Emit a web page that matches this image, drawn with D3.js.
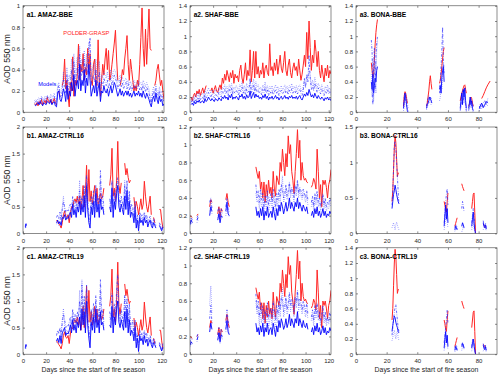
<!DOCTYPE html>
<html>
<head>
<meta charset="utf-8">
<script src="https://cdn.jsdelivr.net/npm/d3@7"></script>
<style>
  body { margin: 0; background: #fff; }
  svg { display: block; font-family: 'Liberation Sans', Arial, Helvetica, sans-serif; }
</style>
</head>
<body>
<div id="chart"></div>
<script>
const _ = null;

// tick labels
const xTicks122 = [0, 20, 40, 60, 80, 100, 120];
const xTicks92 = [0, 20, 40, 60, 80];
const yTicks1 = [0, 0.2, 0.4, 0.6, 0.8, 1];
const yTicks12 = [0, 0.2, 0.4, 0.6, 0.8, 1, 1.2];
const yTicks14 = [0, 0.2, 0.4, 0.6, 0.8, 1, 1.2, 1.4];
const yTicks15 = [0, 0.5, 1, 1.5];
const yTicks2 = [0, 0.5, 1, 1.5, 2];

const titles = ['a1. AMAZ-BBE', 'a2. SHAF-BBE', 'a3. BONA-BBE',
  'b1. AMAZ-CTRL16', 'b2. SHAF-CTRL16', 'b3. BONA-CTRL16',
  'c1. AMAZ-CTRL19', 'c2. SHAF-CTRL19', 'c3. BONA-CTRL19'];

// ---- AMAZ BBE (days 10-122)
const amazBbeDays = d3.range(10, 123);
const amazBbeObs = [
  .08,.07,.09,.06,.10,.08,.12,.07,.09,.11,
  .08,.14,.10,.09,.12,.08,.10,.13,.09,.07,
  _,.20,.15,_,.25,.30,.50,.22,.30,.15,
  .05,.28,.20,.52,.15,.30,.25,.35,.64,.30,
  .45,.38,.55,.30,.42,.35,.60,.40,.55,.30,
  .25,.45,.50,.30,.25,.68,.30,.15,.30,.45,
  .35,.50,.60,.40,.58,.30,.35,.45,.55,.65,
  .77,.50,.30,_,.25,.30,.40,.35,.50,.60,
  .72,.45,.30,.50,.40,.30,.20,.25,.20,.30,
  .25,.45,.70,.98,.60,.43,.78,.45,.70,.97,
  .60,.58,_,_,.25,.30,.40,.45,.35,.25,
  .30,.20,.12
];
const amazBbeModA = [
  .07,.06,.08,.09,.07,.10,.08,.06,.09,.08,
  .07,.10,.09,.08,.11,.07,.09,.10,.06,.05,
  .18,.20,.12,.10,.15,.22,.18,.10,.25,.12,
  .20,.15,.28,.20,.35,.15,.25,.30,.22,.45,
  .20,.30,.25,.40,.18,.32,.25,.45,.30,.15,
  .20,.25,.18,.30,.15,.22,.28,.10,.20,.18,
  .25,.20,.18,.22,.15,.20,.25,.18,.22,.28,
  .25,.20,.15,.18,.22,.16,.20,.15,.18,.20,
  .16,.20,.15,.18,.14,.17,.20,.15,.18,.16,
  .20,.15,.18,.14,.20,.16,.13,.18,.15,.12,
  .08,.05,.12,.15,.10,.18,.12,.08,.15,.10,
  .12,.06,.08
];
const amazBbeModB = [
  .09,.10,.11,.08,.12,.10,.14,.09,.11,.13,
  .10,.15,.12,.10,.14,.11,.13,.15,.09,.08,
  .22,.25,.15,.14,.20,.30,.25,.18,.35,.20,
  .28,.22,.40,.30,.48,.25,.35,.42,.30,.55,
  .30,.42,.35,.50,.28,.45,.35,.60,.70,.25,
  .30,.35,.28,.40,.22,.32,.38,.18,.28,.25,
  .32,.28,.25,.30,.22,.28,.32,.25,.30,.35,
  .32,.28,.22,.25,.30,.24,.28,.22,.25,.28,
  .22,.27,.21,.25,.20,.23,.26,.21,.24,.22,
  .26,.21,.24,.20,.26,.22,.19,.24,.21,.18,
  .12,.08,.16,.20,.14,.22,.16,.12,.20,.14,
  .16,.10,.12
];
const amazBbeModC = [
  .11,.12,.10,.13,.14,.12,.15,.13,.12,.15,
  .12,.16,.14,.13,.17,.14,.15,.18,.12,.10,
  .25,.28,.18,.20,.28,.38,.30,.25,.42,.28,
  .35,.30,.50,.38,.55,.32,.45,.52,.40,.62,
  .40,.50,.45,.58,.38,.55,.45,.66,.55,.35,
  .40,.45,.35,.50,.30,.42,.48,.25,.35,.32,
  .38,.35,.32,.38,.30,.35,.40,.32,.38,.40,
  .38,.34,.28,.30,.35,.30,.33,.28,.30,.32,
  .27,.30,.26,.29,.25,.27,.30,.26,.28,.26,
  .30,.26,.28,.25,.30,.27,.24,.28,.25,.22,
  .15,.10,.20,.24,.18,.26,.20,.15,.24,.18,
  .20,.13,.15
];

// ---- SHAF BBE (days 1-122)
const shafBbeDays = d3.range(1, 123);
const shafBbeObs = [
  .20,.15,.22,.25,.20,.28,.24,.30,.22,.27,
  .32,.25,.30,.35,_,_,_,.28,.32,.25,
  .30,.35,.28,.26,.32,.36,.30,.45,.38,.50,
  .42,.55,.48,.40,.52,.45,.55,.38,.50,.45,
  .48,.40,.55,.62,.45,.38,.50,.65,.42,.55,
  .48,.82,.40,.55,.80,.45,.80,.50,.60,.45,
  .55,.50,.65,.45,.58,.62,.52,.48,.90,.55,
  .60,.48,.65,.55,.70,.50,.62,.75,.58,.52,
  .65,.80,.55,.48,.62,.70,.52,.45,.58,.65,
  .55,.60,.48,.70,.55,.42,.50,.62,.75,.60,
  1.05,.70,1.20,.85,.55,.75,.65,.95,.80,.60,
  .80,.55,.45,.62,.50,.40,.58,.48,.62,.45,.55,.50
];
const shafBbeModA = [
  .10,.12,.09,.14,.11,.15,.13,.16,.12,.14,
  .15,.12,.18,.14,.16,.20,.17,.15,.18,.16,
  .14,.18,.16,.15,.19,.17,.15,.20,.18,.22,
  .18,.20,.16,.22,.19,.24,.17,.20,.18,.21,
  .19,.16,.22,.20,.24,.18,.21,.17,.23,.19,
  .20,.28,.18,.22,.26,.19,.24,.20,.22,.18,
  .20,.17,.22,.19,.24,.18,.21,.16,.20,.18,
  .21,.17,.19,.22,.18,.20,.16,.19,.21,.17,
  .19,.22,.18,.20,.17,.21,.19,.22,.18,.20,
  .18,.21,.17,.20,.22,.18,.16,.20,.24,.21,
  .26,.22,.30,.25,.20,.23,.19,.25,.21,.18,
  .22,.19,.17,.20,.18,.15,.19,.17,.20,.16,.18,.15
];
const shafBbeModB = [
  .13,.16,.12,.18,.15,.20,.17,.21,.16,.19,
  .20,.16,.24,.19,.22,.26,.23,.20,.24,.21,
  .19,.24,.22,.20,.26,.23,.20,.27,.25,.30,
  .24,.28,.22,.30,.26,.32,.23,.27,.25,.29,
  .26,.22,.30,.27,.33,.25,.29,.23,.31,.26,
  .28,.45,.25,.30,.36,.26,.33,.27,.30,.25,
  .27,.23,.30,.26,.33,.25,.29,.22,.28,.25,
  .29,.23,.26,.30,.25,.28,.22,.26,.29,.24,
  .26,.30,.25,.28,.23,.29,.26,.31,.25,.28,
  .25,.29,.24,.28,.30,.25,.22,.28,.45,.32,
  .50,.40,.75,.45,.30,.35,.28,.38,.32,.26,
  .32,.28,.24,.30,.26,.22,.28,.25,.30,.24,.27,.22
];
const shafBbeModC = [
  .16,.20,.15,.22,.19,.25,.21,.26,.20,.24,
  .25,.20,.30,.24,.28,.32,.28,.25,.30,.26,
  .24,.30,.27,.25,.32,.28,.25,.33,.30,.36,
  .30,.34,.27,.36,.32,.38,.28,.33,.30,.35,
  .32,.27,.36,.33,.40,.30,.35,.28,.38,.32,
  .34,.40,.30,.36,.44,.32,.40,.33,.36,.30,
  .33,.28,.36,.32,.40,.30,.35,.27,.34,.30,
  .35,.28,.32,.36,.30,.34,.27,.32,.35,.29,
  .32,.36,.30,.34,.28,.35,.32,.38,.30,.34,
  .30,.35,.29,.34,.36,.30,.27,.34,.40,.38,
  .42,.45,.55,.48,.36,.42,.34,.46,.38,.32,
  .38,.34,.29,.36,.31,.27,.34,.30,.36,.29,.32,.27
];

// ---- BONA BBE (null = gap)
const bonaBbeDays = [
  10,10.5,11,11.5,12,12.5,13,13.5,14, 20,
  31,31.5,32,32.5,33,33.5,34, 40,
  46,46.5,47,47.5,48,48.5,49,49.5, 52,
  54.5,55,55.5,56,56.5,57,57.5, 60,
  68,68.5,69,69.5,70,70.5,71,71.5,72, 73,
  73.5,74,74.5,75,75.5,76,76.5, 78,
  80.5,81,82,83,84,85,86,87.5
];
const bonaBbeObs = [
  .65,.55,.45,.50,.70,.90,1.05,1.15,1.22, _,
  .08,.22,.27,.24,.18,.12,_, _,
  .08,.12,.20,.28,.40,.48,.38,.30, _,
  .38,.42,.50,.60,.70,.80,.85, _,
  .15,.20,.25,.28,.32,.35,.36,.30,.25, _,
  .08,.10,.15,.20,.18,.12,.08, _,
  _,_,.18,.22,.27,.32,.36,.41
];
const bonaBbeModA = [
  .40,.30,.50,.25,.35,.45,.40,.55,.60, _,
  .05,.15,.25,.18,.10,.02,.00, _,
  .05,.10,.12,.15,.20,.18,.15,.12, _,
  .30,.35,.25,.45,.55,.60,.40, _,
  .05,.15,.25,.10,.30,.20,.32,.15,.05, _,
  .05,.12,.20,.10,.15,.05,.02, _,
  .05,.08,.12,.06,.10,.14,.12,_
];
const bonaBbeModB = [
  .95,.80,.10,.60,.85,.30,.75,.90,1.0, _,
  .10,.20,.22,.15,.08,.05,.02, _,
  .08,.15,.18,.22,.16,.20,.18,.14, _,
  .25,.40,.60,.80,1.12,.70,.50, _,
  .02,.10,.20,.28,.15,.30,.25,.10,.02, _,
  .02,.08,.15,.18,.08,.12,.05, _,
  .08,.04,.08,.12,.15,.10,.18,_
];
const bonaBbeModC = [
  .50,.20,.70,.15,.50,.65,.25,.80,.95, _,
  .02,.08,.18,.25,.20,.12,.05, _,
  .03,.06,.10,.12,.14,.12,.10,.08, _,
  .15,.20,.35,.30,.45,.65,.55, _,
  .10,.05,.15,.22,.25,.12,.20,.08,.00, _,
  .10,.05,.12,.06,.10,.03,.00, _,
  .02,.10,.05,.09,.07,.12,.08,_
];

// ---- AMAZ CTRL (days 2-4, then 28-121)
const amazCtrlDays = [2, 2.5, 3, 4].concat(d3.range(28, 122));
const amazCtrlObs = [
  _,_,_,_,
  _,.25,.22,.18,.15,.10,.20,.35,.42,.32,
  .30,.35,.20,.38,.50,.48,.60,.65,.58,.70,
  .55,.70,.45,.62,.90,.50,.75,1.28,.60,1.20,
  .60,.80,.55,.70,.90,.60,.85,.55,.62,.75,
  .65,.70,.85,_,_,_,_,.90,1.10,1.60,
  .70,.85,.60,1.00,1.73,.90,.75,.95,_,_,
  1.32,1.10,1.22,1.05,.95,1.00,_,_,.68,.45,
  .60,.50,.35,.50,.65,.45,.55,.98,.70,.50,
  .40,.55,.70,.35,_,.30,.20,_,_,_,
  .45,.45,.25,.10
];
const ctrl16AmazModA = [
  .12,.18,.15,_,
  _,.20,.25,.18,.22,.15,.30,.28,.35,.25,
  .30,.28,.35,.40,.30,.55,.35,.45,.30,.50,
  .40,.60,.35,.55,.40,.70,.30,.90,.45,.20,
  .10,.50,.35,.60,.30,.75,.40,.55,.30,.65,
  .45,.50,.35,_,_,_,_,.50,.40,.85,
  .30,.60,.45,.75,.90,.50,.40,.55,.45,.35,
  .70,.45,.80,.35,.60,.30,.40,.35,.20,.45,
  .10,.25,.05,.30,.20,.25,.15,.30,.20,.25,
  .12,.20,.25,.15,.10,.20,.15,.10,_,_,
  .15,.10,.05,.12
];
const ctrl16AmazModB = [
  .10,.14,.20,_,
  _,.30,.35,.28,.40,.25,.45,.60,.50,.40,
  .45,.42,.50,.55,.45,.70,.50,.60,.45,.65,
  .55,.80,.50,.70,.55,.90,.45,1.10,.60,.35,
  .25,.70,.50,.80,.45,.90,.55,.70,.45,1.18,
  .60,.70,.50,_,_,_,_,.65,.55,1.00,
  .45,.80,.60,.95,1.05,.65,.55,.70,.60,.50,
  .90,.60,1.00,.50,.80,.45,.55,.50,.30,.60,
  .20,.35,.10,.40,.30,.35,.25,.40,.30,.35,
  .20,.28,.32,.22,.15,.28,.22,.15,_,_,
  .20,.15,.08,.18
];
const ctrl16AmazModC = [
  .15,.11,.17,_,
  _,.18,.20,.15,.25,.35,.50,.70,.40,.30,
  .35,.30,.25,.45,.35,.60,.40,.50,.35,.55,
  .45,1.00,.45,.65,.50,.80,.40,1.00,.55,.25,
  .15,.60,.40,.65,.35,.85,.50,.60,.40,1.00,
  .55,.60,.40,_,_,_,_,.60,.45,.95,
  .40,.75,.55,.85,1.00,.60,.50,.65,.55,.45,
  1.00,.55,.90,.40,.70,.35,.45,.45,.25,.55,
  .15,.30,.08,.35,.25,.30,.20,.35,.25,.30,
  .15,.25,.28,.18,.12,.25,.18,.12,_,_,
  .18,.12,.06,.15
];
const ctrl19AmazModA = [
  .12,.18,.15,_,
  _,.25,.30,.22,.35,.20,.40,.45,.50,.35,
  .40,.38,.45,.55,.40,.65,.45,.55,.40,.60,
  .50,.70,.45,.85,.55,.80,.40,1.00,.55,.30,
  .12,.60,.45,.70,.40,.85,.50,.65,.40,.80,
  .55,.60,.45,_,_,_,_,.55,.50,.90,
  .40,.70,.55,.85,1.00,.60,.50,.65,.55,.45,
  .80,.50,.85,.40,.65,.35,.45,.40,.25,.50,
  .12,.30,.05,.35,.25,.30,.18,.35,.22,.28,
  .15,.22,.28,.18,.12,.22,.18,.12,_,_,
  .18,.12,.06,.14
];
const ctrl19AmazModB = [
  .10,.14,.20,_,
  _,.35,.45,.38,.50,.32,.60,.75,.65,.50,
  .55,.52,.60,.70,.55,.85,.60,.75,.55,.80,
  .70,1.00,.65,1.30,.70,1.10,.55,1.30,.70,.45,
  .30,.85,.60,.95,.55,1.10,.65,.85,.55,1.40,
  .75,.85,.60,_,_,_,_,.80,.65,1.15,
  .55,.95,.70,1.20,1.50,.75,.65,.85,.70,.60,
  1.10,.70,1.05,.60,.95,.55,.60,.60,.35,.65,
  .25,.40,.12,.45,.35,.40,.30,.45,.35,.40,
  .22,.32,.36,.25,.18,.30,.25,.18,_,_,
  .22,.16,.08,.20
];
const ctrl19AmazModC = [
  .15,.11,.17,_,
  _,.22,.28,.20,.32,.45,.65,.86,.50,.40,
  .45,.40,.35,.60,.45,.75,.50,.65,.45,.70,
  .60,1.20,.55,1.40,.60,.95,.50,1.25,.65,.35,
  .20,.75,.50,.80,.45,1.00,.60,.75,.50,1.20,
  .65,.75,.50,_,_,_,_,.70,.55,1.05,
  .50,.85,.65,1.05,1.25,.70,.60,.75,.65,.55,
  1.10,.65,.95,.50,.85,.45,.55,.65,.30,.60,
  .20,.35,.10,.40,.30,.35,.25,.40,.30,.35,
  .18,.28,.32,.22,.15,.28,.22,.15,_,_,
  .20,.14,.07,.17
];

// ---- SHAF CTRL (short segments, then days 57-102 and 105-122)
const shafCtrlDays = [0,1,2,3, 6,7,8, 17,18,19,20, 24,25,26,27,28,29, 31,32,33,34,35]
  .concat(d3.range(57, 104), d3.range(105, 123));
const shafCtrlObs = [
  .20,.19,.18,_, .20,.22,_, .30,.38,.35,_, .22,.30,.18,.28,.25,_, .38,.45,.35,.30,_,
  .75,.68,.62,.70,.50,.58,.40,.58,.35,.55,
  .42,.60,.45,.52,.40,.70,.50,.42,.65,.60,
  .55,.80,.70,.95,.80,.65,.90,.75,1.10,.90,
  1.00,.70,.60,.45,.70,.90,1.17,.85,1.05,.60,
  .80,.65,.60,.62,.58,.57,_,
  .52,.55,.62,.58,.50,.95,.70,.40,.55,.30,
  .60,.55,.60,.52,.40,.55,.60,.72
];
const ctrl16ShafModA = [
  .10,.15,.12,_, .15,.18,_, .20,.30,.25,_, .15,.22,.12,.20,.18,_, .25,.35,.22,.20,_,
  .30,.20,.25,.18,.28,.20,.30,.15,.25,.20,
  .30,.18,.22,.25,.18,.30,.22,.15,.28,.20,
  .32,.25,.35,.30,.22,.28,.35,.25,.30,.40,
  .28,.35,.30,.25,.35,.30,.40,.28,.35,.30,
  .25,.32,.28,.25,.30,.22,_,
  .20,.25,.18,.28,.22,.30,.20,.25,.18,.22,
  .28,.20,.25,.18,.22,.20,.25,.22
];
const ctrl16ShafModB = [
  .12,.18,.15,_, .18,.20,_, .35,.40,.28,_, .25,.30,.18,.28,.22,_, .30,.40,.28,.25,_,
  .55,.40,.48,.35,.50,.38,.45,.30,.42,.35,
  .48,.32,.40,.45,.35,.50,.40,.30,.45,.38,
  .50,.42,.55,.50,.40,.45,.55,.42,.48,.58,
  .45,.52,.48,.40,.55,.48,.60,.45,.52,.48,
  .42,.50,.45,.40,.48,.38,_,
  .35,.42,.30,.45,.38,.48,.35,.40,.30,.38,
  .45,.32,.40,.30,.35,.32,.40,.36
];
const ctrl16ShafModC = [
  .08,.12,.10,_, .12,.15,_, .25,.35,.22,_, .18,.25,.15,.22,.18,_, .20,.30,.25,.18,_,
  .45,.35,.38,.28,.40,.30,.38,.25,.35,.28,
  .40,.25,.32,.38,.28,.42,.32,.25,.38,.30,
  .45,.35,.50,.65,.35,.40,.50,.38,.42,.55,
  .40,.48,.42,.35,.50,.42,.58,.40,.48,.42,
  .38,.45,.40,.35,.42,.32,_,
  .30,.38,.25,.40,.32,.42,.30,.35,.25,.32,
  .40,.28,.35,.25,.30,.28,.35,.30
];
const ctrl19ShafModA = [
  .10,.14,.12,_, .16,.20,_, .25,.35,.28,_, .16,.24,.14,.22,.20,_, .28,.38,.25,.22,_,
  .35,.25,.30,.22,.32,.25,.35,.20,.30,.25,
  .35,.22,.28,.30,.22,.35,.28,.20,.32,.25,
  .38,.30,.40,.35,.28,.32,.40,.30,.35,.45,
  .32,.40,.35,.30,.40,.35,.48,.32,.40,.35,
  .30,.38,.32,.30,.35,.28,_,
  .25,.30,.22,.32,.26,.35,.25,.30,.22,.26,
  .32,.24,.30,.22,.26,.24,.30,.26
];
const ctrl19ShafModB = [
  .13,.18,.16,_, .20,.24,_, .40,.55,.35,_, .22,.30,.18,.28,.25,_, .35,.50,.38,.30,_,
  .68,.50,.60,.42,.58,.45,.55,.38,.50,.42,
  .58,.40,.48,.52,.42,.60,.48,.38,.55,.45,
  .60,.50,.65,.60,.48,.55,.65,.50,.58,.70,
  .55,.62,.58,.48,.65,.58,.72,.55,.62,.58,
  .50,.60,.55,.48,.58,.45,_,
  .42,.50,.38,.55,.45,.58,.42,.48,.36,.45,
  .55,.40,.48,.36,.42,.38,.48,.42
];
const ctrl19ShafModC = [
  .08,.12,.10,_, .14,.18,_, .55,.77,.45,_, .15,.20,.12,.25,.16,_, .25,.42,.30,.22,_,
  .60,.45,.50,.32,.48,.35,.45,.30,.40,.32,
  .48,.30,.38,.45,.32,.50,.38,.30,.45,.35,
  .55,.42,.60,.75,.42,.48,.60,.45,.50,.65,
  .48,.58,.52,.42,.60,.52,.70,.48,.58,.52,
  .45,.55,.48,.42,.50,.40,_,
  .38,.45,.32,.48,.40,.50,.38,.42,.32,.40,
  .48,.35,.42,.32,.38,.34,.42,.36
];

// ---- BONA CTRL (null = gap)
const bonaCtrlDays = [
  23.5,24,24.5,25,25.5,26,26.5,27,27.5,28, 30,
  57.5,58,58.5,59,59.5,60, 62,
  64.5,65,65.5,66, 67,
  69,69.5,70,70.5, 72,
  75.5,76,76.5,77,77.5,78, 80,
  83,83.5,84,84.5,85
];
const bonaCtrlObs = [
  .45,.60,.90,1.20,1.38,1.28,1.05,.80,.85,.85, _,
  .45,.40,.33,.30,.45,.57, _,
  .10,.14,.18,.22, _,
  .70,.66,.63,.60, _,
  .35,.45,.55,.57,.30,.00, _,
  .13,.12,.10,.08,_
];
const ctrl16BonaModA = [
  .35,.45,.55,.60,.68,.62,.55,.50,.45,.42, _,
  .10,.25,.40,.20,.35,.15, _,
  .05,.10,.08,.05, _,
  .10,.15,.12,.08, _,
  .10,.20,.30,.15,.05,.00, _,
  .15,.10,.08,.12,.06
];
const ctrl16BonaModB = [
  .40,.60,.90,1.25,1.30,1.20,1.00,.80,.60,.40, _,
  .15,.30,.45,.55,.63,.40, _,
  .08,.12,.10,.06, _,
  .35,.45,.40,.30, _,
  .15,.25,.35,.25,.10,.02, _,
  .18,.12,.10,.15,.08
];
const ctrl16BonaModC = [
  .08,.12,.15,.10,.05,.12,.16,.12,.08,.05, _,
  .05,.12,.20,.30,.15,.08, _,
  .03,.06,.12,.08, _,
  .02,.05,.12,.06, _,
  .05,.12,.20,.08,.02,.00, _,
  .05,.08,.12,.06,.04
];
const ctrl19BonaModA = [
  .30,.38,.45,.50,.48,.42,.38,.35,.30,.28, _,
  .08,.20,.30,.15,.25,.10, _,
  .05,.10,.08,.05, _,
  .10,.14,.12,.08, _,
  .08,.15,.20,.12,.05,.00, _,
  .12,.08,.06,.10,.05
];
const ctrl19BonaModB = [
  .25,.35,.45,.55,.62,.65,.55,.45,.35,.30, _,
  .15,.25,.35,.45,.58,.40, _,
  .08,.12,.10,.06, _,
  .12,.16,.10,.08, _,
  .10,.18,.20,.15,.06,.01, _,
  .14,.10,.08,.12,.06
];
const ctrl19BonaModC = [
  .18,.22,.28,.32,.25,.20,.28,.30,.22,.18, _,
  .05,.10,.18,.25,.12,.06, _,
  .03,.06,.12,.08, _,
  .05,.10,.14,.06, _,
  .04,.10,.16,.08,.02,.00, _,
  .04,.07,.10,.05,.03
];

const panels = [
  { xMax: 122, xTicks: xTicks122, yMax: 1, yTicks: yTicks1, days: amazBbeDays, obs: amazBbeObs, models: [amazBbeModA, amazBbeModB, amazBbeModC] },
  { xMax: 122, xTicks: xTicks122, yMax: 1.4, yTicks: yTicks14, days: shafBbeDays, obs: shafBbeObs, models: [shafBbeModA, shafBbeModB, shafBbeModC] },
  { xMax: 92, xTicks: xTicks92, yMax: 1.4, yTicks: yTicks14, days: bonaBbeDays, obs: bonaBbeObs, models: [bonaBbeModA, bonaBbeModB, bonaBbeModC] },
  { xMax: 122, xTicks: xTicks122, yMax: 2, yTicks: yTicks2, days: amazCtrlDays, obs: amazCtrlObs, models: [ctrl16AmazModA, ctrl16AmazModB, ctrl16AmazModC] },
  { xMax: 122, xTicks: xTicks122, yMax: 1.2, yTicks: yTicks12, days: shafCtrlDays, obs: shafCtrlObs, models: [ctrl16ShafModA, ctrl16ShafModB, ctrl16ShafModC] },
  { xMax: 92, xTicks: xTicks92, yMax: 1.5, yTicks: yTicks15, days: bonaCtrlDays, obs: bonaCtrlObs, models: [ctrl16BonaModA, ctrl16BonaModB, ctrl16BonaModC] },
  { xMax: 122, xTicks: xTicks122, yMax: 2, yTicks: yTicks2, days: amazCtrlDays, obs: amazCtrlObs, models: [ctrl19AmazModA, ctrl19AmazModB, ctrl19AmazModC] },
  { xMax: 122, xTicks: xTicks122, yMax: 1.2, yTicks: yTicks12, days: shafCtrlDays, obs: shafCtrlObs, models: [ctrl19ShafModA, ctrl19ShafModB, ctrl19ShafModC] },
  { xMax: 92, xTicks: xTicks92, yMax: 1.4, yTicks: yTicks14, days: bonaCtrlDays, obs: bonaCtrlObs, models: [ctrl19BonaModA, ctrl19BonaModB, ctrl19BonaModC] }
];

const width = 500;
const height = 377;
const plotW = 141;
const plotH = 106.4;
const colLeft = [23, 190, 356];
const rowTop = [5.8, 127, 247.8];
const axisColor = '#404040';
const textColor = '#262626';

// solid, dash-dot, dotted model runs
const modelStyles = [
  { dash: null, color: '#0000ff', width: 0.9 },
  { dash: '2.5,1.5,0.6,1.5', color: '#2a2aff', width: 0.7 },
  { dash: '0.6,1.4', color: '#3a3aff', width: 0.7 }
];

const svg = d3.select('#chart')
  .append('svg')
  .attr('width', width)
  .attr('height', height);

const fmt = d => String(+d.toFixed(2));

panels.forEach((p, i) => {
  const col = i % 3;
  const row = Math.floor(i / 3);

  const g = svg.append('g')
    .attr('transform', `translate(${colLeft[col]},${rowTop[row]})`);

  const x = d3.scaleLinear().domain([0, p.xMax]).range([0, plotW]);
  const y = d3.scaleLinear().domain([0, p.yMax]).range([plotH, 0]);

  svg.append('clipPath')
    .attr('id', `clip${i}`)
    .append('rect')
    .attr('width', plotW)
    .attr('height', plotH);

  const line = d3.line()
    .defined(d => d[1] != null)
    .x(d => x(d[0]))
    .y(d => y(d[1]));

  const pts = vals => p.days.map((d, k) => [d, vals[k]]);

  const plot = g.append('g').attr('clip-path', `url(#clip${i})`);

  plot.append('path')
    .datum(pts(p.obs))
    .attr('fill', 'none')
    .attr('stroke', '#ff2626')
    .attr('stroke-width', 1)
    .attr('stroke-linejoin', 'round')
    .attr('d', line);

  p.models.forEach((m, k) => {
    const s = modelStyles[k];
    plot.append('path')
      .datum(pts(m))
      .attr('fill', 'none')
      .attr('stroke', s.color)
      .attr('stroke-width', s.width)
      .attr('stroke-dasharray', s.dash)
      .attr('stroke-linejoin', 'round')
      .attr('d', line);
  });

  // axes, MATLAB style: ticks inside on all four sides
  const styleAxis = sel => {
    sel.select('.domain').remove();
    sel.selectAll('line').attr('stroke', axisColor).attr('stroke-width', 0.6);
    sel.selectAll('text').attr('fill', textColor).style('font-size', '6px');
  };

  g.append('g')
    .attr('transform', `translate(0,${plotH})`)
    .call(d3.axisBottom(x).tickValues(p.xTicks).tickSizeInner(-2).tickSizeOuter(0).tickPadding(5).tickFormat(fmt))
    .call(styleAxis);

  g.append('g')
    .call(d3.axisTop(x).tickValues(p.xTicks).tickSizeInner(-2).tickSizeOuter(0).tickFormat(''))
    .call(styleAxis);

  g.append('g')
    .call(d3.axisLeft(y).tickValues(p.yTicks).tickSizeInner(-2).tickSizeOuter(0).tickPadding(3).tickFormat(fmt))
    .call(styleAxis);

  g.append('g')
    .attr('transform', `translate(${plotW},0)`)
    .call(d3.axisRight(y).tickValues(p.yTicks).tickSizeInner(-2).tickSizeOuter(0).tickFormat(''))
    .call(styleAxis);

  g.append('rect')
    .attr('width', plotW)
    .attr('height', plotH)
    .attr('fill', 'none')
    .attr('stroke', axisColor)
    .attr('stroke-width', 0.6);

  g.append('text')
    .attr('x', 3.7)
    .attr('y', 11.3)
    .attr('fill', '#000')
    .style('font-size', '6.6px')
    .style('font-weight', 'bold')
    .text(titles[i]);

  if (col === 0) {
    svg.append('text')
      .attr('transform', `translate(7,${rowTop[row] + plotH / 2}) rotate(-90)`)
      .attr('text-anchor', 'middle')
      .attr('dominant-baseline', 'central')
      .attr('fill', textColor)
      .style('font-size', '8.6px')
      .text('AOD 550 nm');
  }

  if (row === 2) {
    svg.append('text')
      .attr('x', colLeft[col] + plotW / 2)
      .attr('y', rowTop[row] + plotH + 17.3)
      .attr('text-anchor', 'middle')
      .attr('fill', textColor)
      .style('font-size', '6.9px')
      .text('Days since the start of fire season');
  }

  if (i === 0) {
    g.append('text')
      .attr('x', 40.3)
      .attr('y', 29.7)
      .attr('fill', '#ff2626')
      .style('font-size', '5.8px')
      .text('POLDER-GRASP');
    g.append('text')
      .attr('x', 15.3)
      .attr('y', 80.6)
      .attr('fill', '#0000ff')
      .style('font-size', '5.6px')
      .text('Models');
  }
});
</script>
</body>
</html>
